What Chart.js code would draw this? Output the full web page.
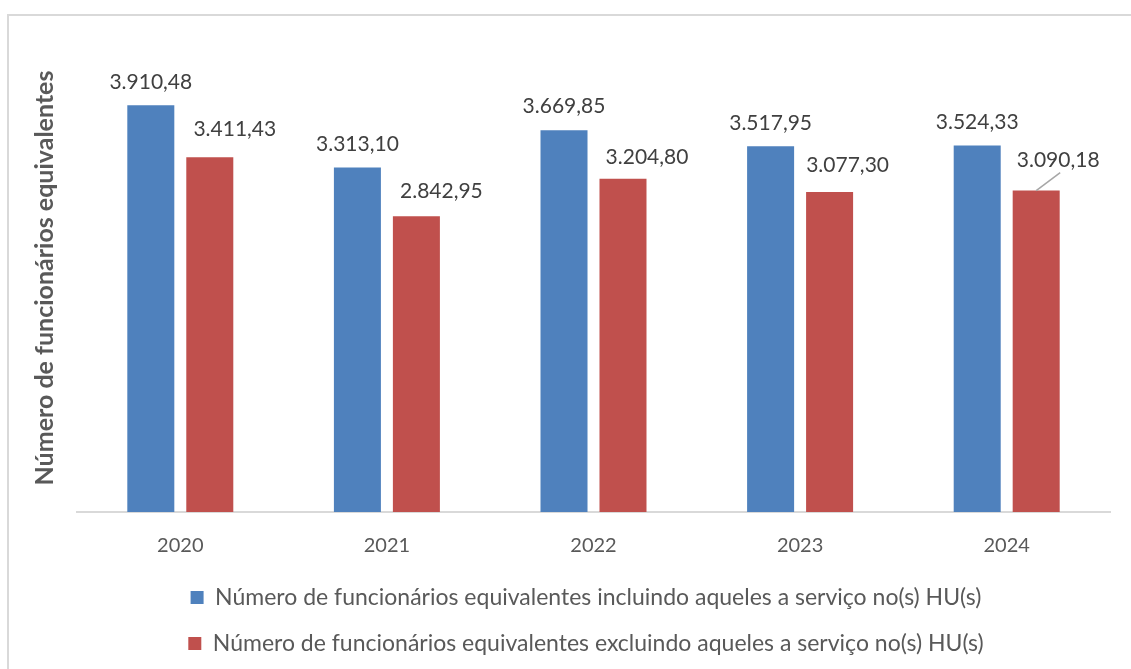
<!DOCTYPE html>
<html>
<head>
<meta charset="utf-8">
<script src="https://cdn.jsdelivr.net/npm/chart.js@4.4.0/dist/chart.umd.min.js"></script>
<style>
  html, body { margin: 0; padding: 0; background: #fff; }
  #wrap { width: 1131px; height: 669px; position: relative; }
</style>
</head>
<body>
<div id="wrap"><canvas id="chart" width="1131" height="669"></canvas></div>
<script>
// data
var years = ['2020', '2021', '2022', '2023', '2024'];
var seriesNames = [
    'Número de funcionários equivalentes incluindo aqueles a serviço no(s) HU(s)',
    'Número de funcionários equivalentes excluindo aqueles a serviço no(s) HU(s)'
];
var incluindoHU = [3910.48, 3313.10, 3669.85, 3517.95, 3524.33];
var excluindoHU = [3411.43, 2842.95, 3204.80, 3077.30, 3090.18];

// label placement (style only)
var labelDx = [[0, 0, 0, 0, 0], [25, 25, 24, 18, 22]];
var labelDy = [[23, 23, 24, 23, 23], [28, 25, 21, 27, 30]];
var leader = [[false, false, false, false, false], [false, false, false, false, true]];

var fontFamily = 'Lato, "Open Sans", sans-serif';

function fmtBR(v) {
    var parts = v.toFixed(2).split('.');
    var intPart = parts[0].replace(/\B(?=(\d{3})+(?!\d))/g, '.');
    return intPart + ',' + parts[1];
}

var frameBorder = {
    id: 'frameBorder',
    beforeDraw: function(chart) {
        var ctx = chart.ctx;
        ctx.save();
        ctx.fillStyle = '#ffffff';
        ctx.fillRect(0, 0, chart.width, chart.height);
        ctx.strokeStyle = '#d9d9d9';
        ctx.lineWidth = 2;
        ctx.strokeRect(8, 15, 1200, 700);
        ctx.restore();
    }
};

// Excel centres the legend a bit to the right
var legendShift = {
    id: 'legendShift',
    afterLayout: function(chart) {
        if (chart.legend) {
            chart.legend.left += 26;
            chart.legend.right += 26;
        }
    }
};

var valueLabels = {
    id: 'valueLabels',
    afterDatasetsDraw: function(chart) {
        var ctx = chart.ctx;
        ctx.save();
        ctx.font = '21px ' + fontFamily;
        ctx.fillStyle = '#404040';
        ctx.textAlign = 'center';
        ctx.textBaseline = 'middle';
        chart.data.datasets.forEach(function(ds, d) {
            var meta = chart.getDatasetMeta(d);
            meta.data.forEach(function(bar, i) {
                var x = bar.x + labelDx[d][i];
                var y = bar.y - labelDy[d][i];
                if (leader[d][i]) {
                    ctx.strokeStyle = '#a6a6a6';
                    ctx.lineWidth = 1.5;
                    ctx.beginPath();
                    ctx.moveTo(bar.x, bar.y);
                    ctx.lineTo(bar.x + 24, bar.y - 18);
                    ctx.stroke();
                }
                ctx.fillText(fmtBR(ds.data[i]), x, y);
            });
        });
        ctx.restore();
    }
};

var ctx = document.getElementById('chart');
var barChart = new Chart(ctx, {
    type: 'bar',
    data: {
        labels: years,
        datasets: [{
            label: seriesNames[0],
            data: incluindoHU,
            backgroundColor: '#4f81bd',
            categoryPercentage: 0.571,
            barPercentage: 0.797
        }, {
            label: seriesNames[1],
            data: excluindoHU,
            backgroundColor: '#c0504d',
            categoryPercentage: 0.571,
            barPercentage: 0.797
        }]
    },
    options: {
        responsive: false,
        animation: false,
        layout: {
            padding: { left: 10, right: 21, top: 44, bottom: 4 }
        },
        plugins: {
            tooltip: { enabled: false },
            legend: {
                position: 'bottom',
                labels: {
                    boxWidth: 13,
                    boxHeight: 13,
                    padding: 23,
                    color: '#595959',
                    font: { family: fontFamily, size: 23 }
                }
            }
        },
        scales: {
            x: {
                grid: { display: false, drawTicks: false },
                border: { display: true, color: '#d9d9d9', width: 2 },
                ticks: {
                    color: '#595959',
                    padding: 22,
                    font: { family: fontFamily, size: 20 }
                },
                afterFit: function(scale) {
                    scale.height -= 17;
                }
            },
            y: {
                min: 0,
                max: 4500,
                grid: { display: false, drawTicks: false },
                border: { display: false },
                ticks: { display: false },
                title: {
                    display: true,
                    text: 'Número de funcionários equivalentes',
                    color: '#595959',
                    padding: { top: 20, bottom: 17 },
                    font: { family: fontFamily, size: 25, weight: 'bold' }
                }
            }
        }
    },
    plugins: [frameBorder, legendShift, valueLabels]
});
</script>
</body>
</html>
